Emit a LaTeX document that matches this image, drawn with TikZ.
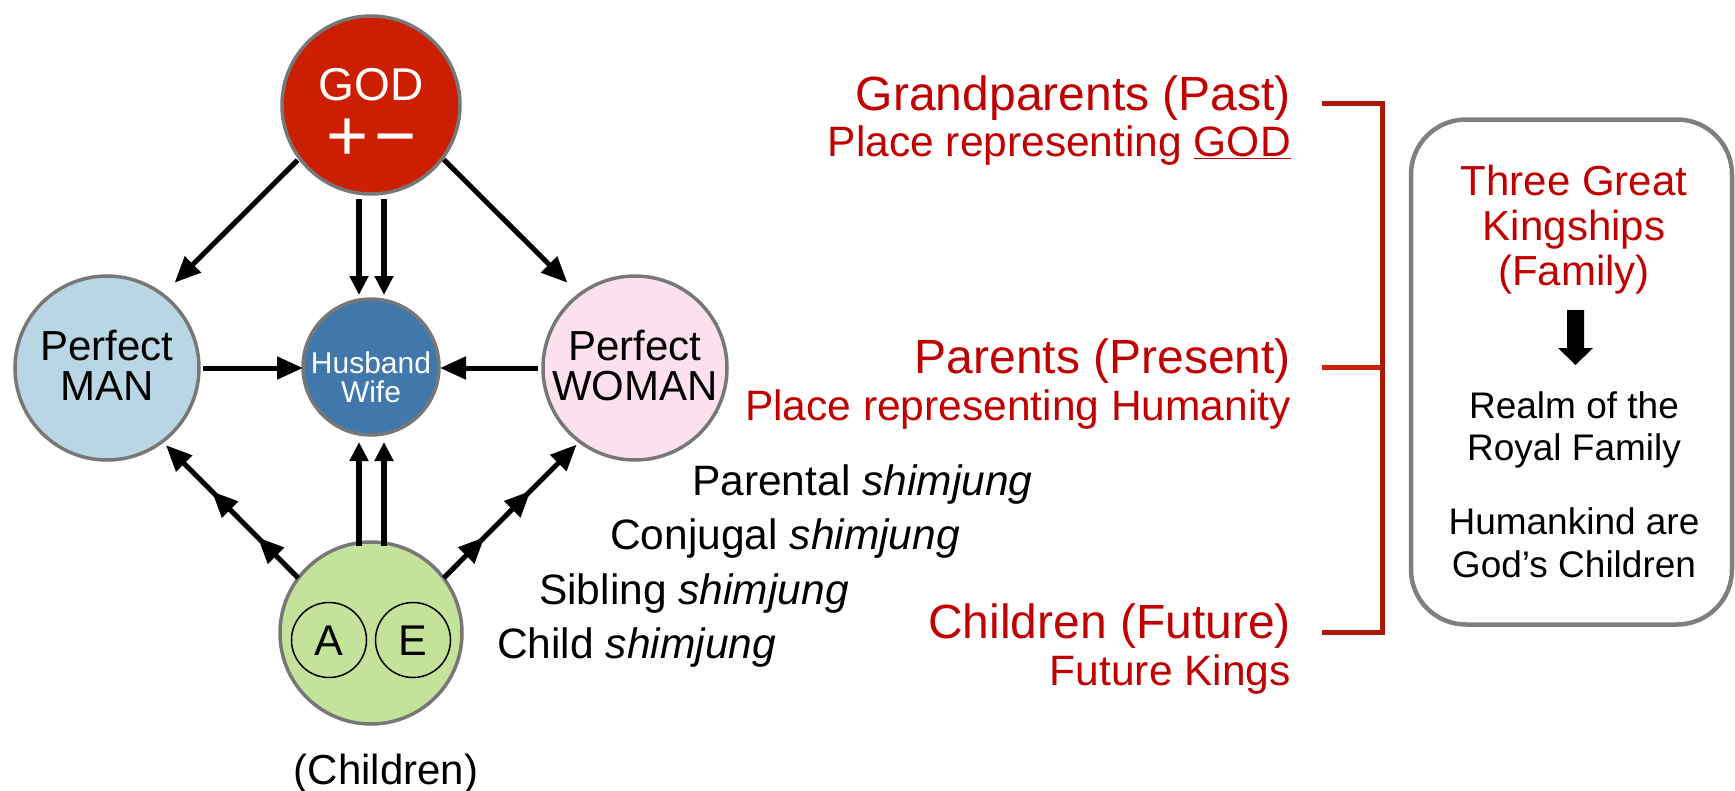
\documentclass[tikz,border=0pt]{standalone}
\usepackage{fontspec}
\setmainfont{Liberation Sans}
\usetikzlibrary{arrows.meta,calc,decorations.markings}
\definecolor{godred}{HTML}{CC1E00}
\definecolor{manblue}{HTML}{B9D6E4}
\definecolor{hwblue}{HTML}{4178AB}
\definecolor{womanpink}{HTML}{FDE0EE}
\definecolor{kidgreen}{HTML}{C3E39B}
\definecolor{rimgray}{HTML}{777777}
\definecolor{txtred}{HTML}{C00000}
\definecolor{brkdark}{HTML}{A81A06}
\definecolor{brkmid}{HTML}{CC2200}
\definecolor{boxgray}{HTML}{7F7F7F}
\newcommand{\fsz}[1]{\fontsize{#1}{#1}\selectfont}
\begin{document}
\begin{tikzpicture}[x=1pt,y=-1pt,
  circ/.style={circle, draw=rimgray, line width=3.5pt, inner sep=0pt, outer sep=0pt},
  lbl/.style={inner sep=0pt, anchor=base},
  arr/.style={line width=5pt, -{Triangle[length=26pt,width=22pt]}},
  darr/.style={line width=5.5pt, -{Triangle[length=19pt,width=18pt]}},
  multi/.style={arr, postaction={decorate, decoration={markings,
      mark=at position 0.306 with {\arrow{Triangle[length=26pt,width=22pt]}},
      mark=at position 0.653 with {\arrow{Triangle[length=26pt,width=22pt]}}}}},
  redbig/.style={lbl, anchor=base east, text=txtred, font=\fsz{48}},
  redsmall/.style={lbl, anchor=base east, text=txtred, font=\fsz{42.5}},
  shim/.style={lbl, anchor=base west, font=\fsz{42.5}},
  boxred/.style={lbl, text=txtred, font=\fsz{42}},
  boxblack/.style={lbl, font=\fsz{37}},
]
\useasboundingbox (0,0) rectangle (1735,790);

% circles
\node[circ, fill=godred, minimum size=178pt] (god) at (371,105) {};
\node[circ, fill=manblue, minimum size=184pt] (man) at (107,368) {};
\node[circ, fill=hwblue, minimum size=136pt] (hw) at (371,367) {};
\node[circ, fill=womanpink, minimum size=184pt] (woman) at (635,368) {};
\node[circ, fill=kidgreen, minimum size=182pt] (kids) at (371,633) {};
\node[circle, draw=black, line width=1.5pt, minimum size=75pt, inner sep=0pt] (adam) at (329,640) {};
\node[circle, draw=black, line width=1.5pt, minimum size=75pt, inner sep=0pt] (eve) at (413,640) {};

% circle texts
\node[lbl, text=white, font=\fsz{46}] (godname) at (371,100) {GOD};
\node[lbl, text=white, font=\fsz{72}] (plus) at (348,160) {+};
\node[lbl, text=white, font=\fsz{72}] (minus) at (396,160) {−};
\node[lbl, font=\fsz{42}] (man1) at (107,360) {Perfect};
\node[lbl, font=\fsz{42}] (man2) at (107,400) {MAN};
\node[lbl, font=\fsz{42}] (wom1) at (635,360) {Perfect};
\node[lbl, font=\fsz{42}] (wom2) at (635,400) {WOMAN};
\node[lbl, text=white, font=\fsz{30}] (hw1) at (371,373) {Husband};
\node[lbl, text=white, font=\fsz{30}] (hw2) at (371,402) {Wife};
\node[lbl, font=\fsz{43}] (alet) at (329,655) {A};
\node[lbl, font=\fsz{43}] (elet) at (413,655) {E};
\node[lbl, font=\fsz{42}] (kidlbl) at (386,784) {(Children)};

% connectors
\draw[arr] ($(god)!91pt!(man)+(-9,-9)$) -- ($(god)!264.5pt!(man)+(-9,-9)$);
\draw[arr] ($(god)!90pt!(woman)+(9,-9)$) -- ($(god)!264.5pt!(woman)+(9,-9)$);
\draw[darr, shorten <=5pt, shorten >=4pt] ([xshift=-12pt]god.south) -- ([xshift=-12pt]hw.north);
\draw[darr, shorten <=5pt, shorten >=4pt] ([xshift=13pt]god.south) -- ([xshift=13pt]hw.north);
\draw[arr, shorten <=4pt] (man.east) -- (man.east -| hw.west);
\draw[arr, shorten <=5pt, shorten >=1pt] (woman.west) -- (woman.west -| hw.east);
\draw[darr, shorten <=-4pt, shorten >=7pt] ([xshift=-12pt]kids.north) -- ([xshift=-12pt]hw.south);
\draw[darr, shorten <=-4pt, shorten >=7pt] ([xshift=13pt]kids.north) -- ([xshift=13pt]hw.south);
\draw[multi] ($(kids)!90.4pt!(man)+(-9,9)$) -- ($(kids)!277.8pt!(man)+(-9,9)$);
\draw[multi] ($(kids)!90.5pt!(woman)+(9,9)$) -- ($(kids)!278.6pt!(woman)+(9,9)$);

% shimjung list
\node[shim] (s1) at (692,495) {Parental \textit{shimjung}};
\node[shim] (s2) at (610,549) {Conjugal \textit{shimjung}};
\node[shim] (s3) at (539,604) {Sibling \textit{shimjung}};
\node[shim] (s4) at (497,658) {Child \textit{shimjung}};

% red generations
\node[redbig] (g1) at (1291,110) {Grandparents (Past)};
\node[redsmall] (g2) at (1291,156) {Place representing \underline{GOD}};
\node[redbig] (p1) at (1291,373) {Parents (Present)};
\node[redsmall] (p2) at (1291,420) {Place representing Humanity};
\node[redbig] (c1) at (1291,638) {Children (Future)};
\node[redsmall] (c2) at (1291,685) {Future Kings};

% bracket
\draw[brkmid, line width=5pt] (1322,367) -- (1381,367);
\draw[brkdark, line width=5pt] (1322,103) -- (1382,103) -- (1382,632) -- (1322,632);

% right box
\node[draw=boxgray, line width=4.5pt, rounded corners=55pt, minimum width=321pt, minimum height=505pt, inner sep=0pt, outer sep=0pt] (box) at (1571.5,372) {};
\node[boxred] (k1) at (1574,195) {Three Great};
\node[boxred] (k2) at (1574,240) {Kingships};
\node[boxred] (k3) at (1574,285) {(Family)};
\fill (1567,310) -- (1584,310) -- (1584,348) -- (1593,348) -- (1575.5,365) -- (1558,348) -- (1567,348) -- cycle;
\node[boxblack] (r1) at (1574,418) {Realm of the};
\node[boxblack] (r2) at (1574,460) {Royal Family};
\node[boxblack] (h1) at (1574,534) {Humankind are};
\node[boxblack] (h2) at (1574,577) {God’s Children};
\end{tikzpicture}
\end{document}
